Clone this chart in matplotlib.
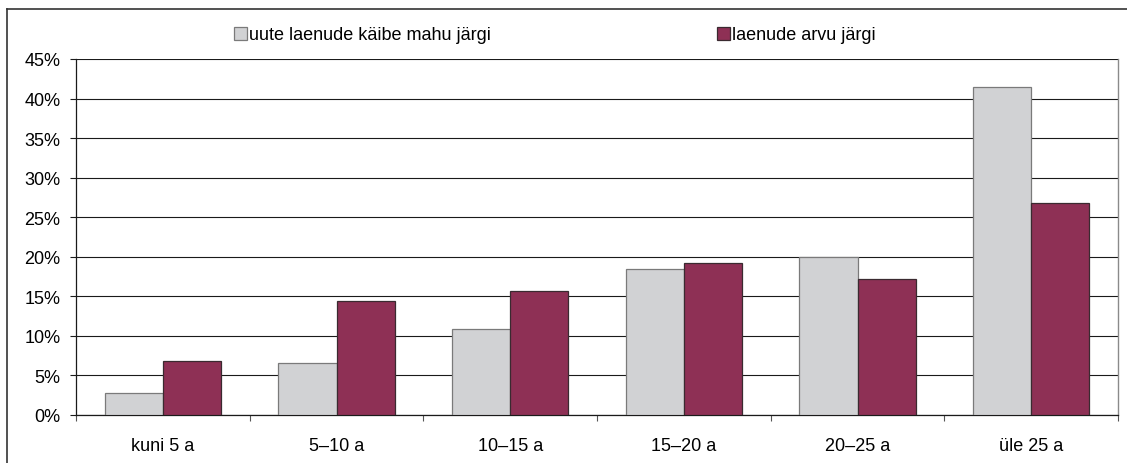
import numpy as np
import matplotlib.pyplot as plt
from matplotlib.lines import Line2D

plt.rcParams['font.family'] = ['Liberation Sans', 'DejaVu Sans']

categories = ['kuni 5 a', '5–10 a', '10–15 a', '15–20 a', '20–25 a', 'üle 25 a']
volume_share = [2.8, 6.6, 10.9, 18.5, 20.0, 41.5]
count_share = [6.8, 14.4, 15.7, 19.2, 17.2, 26.8]
series_labels = ['uute laenude käibe mahu järgi', 'laenude arvu järgi']
y_ticks = [0, 5, 10, 15, 20, 25, 30, 35, 40, 45]

W, H = 1127, 464
fs = 13
fig = plt.figure(figsize=(W / 100, H / 100), dpi=100)
ax = fig.add_axes([76 / W, 48 / H, (1118 - 76) / W, (416 - 60) / H])

x = np.arange(len(categories))
bw = 0.335
ax.bar(x - bw / 2, volume_share, bw, color='#d1d2d4', edgecolor='#7a7a7a',
       linewidth=0.9, zorder=3, label=series_labels[0])
ax.bar(x + bw / 2, count_share, bw, color='#8e3055', edgecolor='#3a2a30',
       linewidth=0.9, zorder=3, label=series_labels[1])

ax.set_xlim(-0.5, len(categories) - 0.5)
ax.set_ylim(0, 45)
ax.set_yticks(y_ticks)
ax.set_yticklabels([f'{v}%' for v in y_ticks], fontsize=fs)
ax.yaxis.grid(True, color='#1a1a1a', linewidth=0.8, zorder=0)
ax.tick_params(axis='y', length=4.3, width=0.8, pad=7, color='#1a1a1a')

# boundary ticks between groups, labels at the group centers
ax.set_xticks(np.arange(len(categories) + 1) - 0.5)
ax.set_xticklabels([])
ax.set_xticks(x, minor=True)
ax.set_xticklabels(categories, minor=True, fontsize=fs)
ax.tick_params(axis='x', which='major', length=4.5, width=0.8, color='#555555')
ax.tick_params(axis='x', which='minor', length=0, pad=16)

for side in ['left', 'bottom']:
    ax.spines[side].set_color('#1a1a1a')
    ax.spines[side].set_linewidth(0.9)
ax.spines['top'].set_visible(False)
ax.spines['right'].set_color('#8a8a8a')
ax.spines['right'].set_linewidth(1.0)

fig.legend(loc='center left', bbox_to_anchor=(234 / W, 1 - 36 / H), ncol=2,
           frameon=False, fontsize=fs, handlelength=0.7, handleheight=0.75,
           handletextpad=0.15, columnspacing=12.5, borderpad=0, borderaxespad=0)

# outer frame of the picture
fig.add_artist(Line2D([7 / W, 7 / W], [0, 1 - 10 / H], color='#333333', lw=1.2))
fig.add_artist(Line2D([7 / W, 1], [1 - 10 / H, 1 - 10 / H], color='#333333', lw=1.2))

fig.savefig('out.png', dpi=100)
